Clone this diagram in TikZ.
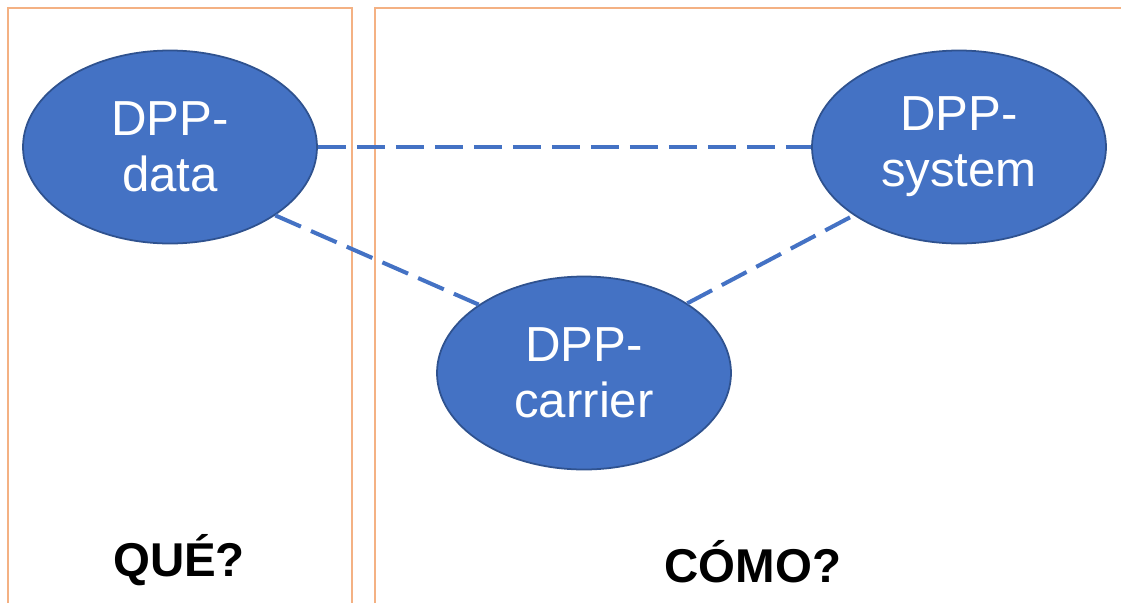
\documentclass[tikz,border=0pt]{standalone}
\usepackage{fontspec}
\setmainfont{Liberation Sans}
\usepackage{xcolor}
\usetikzlibrary{
  shapes.geometric
}
\definecolor{dppblue}{HTML}{4472C4}
\definecolor{dppedge}{HTML}{2F528F}
\definecolor{boxorange}{HTML}{F4B183}
\tikzset{
  n/.style = {
    ellipse, draw=dppedge, line width=1pt, fill=dppblue,
    minimum width=5.88cm, minimum height=3.86cm,
    text=white, align=center, font=\fontsize{28}{32}\selectfont
  },
  d/.style = {
    draw=dppblue, line width=2.3pt, dash pattern=on 0.56cm off 0.22cm
  },
  b/.style = {
    draw=boxorange, line width=1.5pt
  },
  q/.style = {
    font=\fontsize{27}{31}\selectfont\bfseries
  }
}
\begin{document}
\begin{tikzpicture}
  \useasboundingbox (0,0) rectangle (22.42,-12.06);
  % boxes
  \draw [b] (0.16,-12.06) |- (7.04,-0.16) -- (7.04,-12.06);
  \draw [b] (7.50,-12.06) |- (22.42,-0.16);
  \path
    (3.40,-2.94) node [n] (data) {DPP-\\data}
    (19.18,-2.94) node [n] (system) {DPP-\\system}
    (11.68,-7.46) node [n] (carrier) {DPP-\\carrier}
    (3.58,-11.20) node [q] (que) {QUÉ?}
    (15.06,-11.24) node [q] (como) {CÓMO?};
  \path
    (data) edge [d] (system)
    (data.-33) edge [d] (carrier.147)
    (carrier.34) edge [d] (system.213);
\end{tikzpicture}
\end{document}
